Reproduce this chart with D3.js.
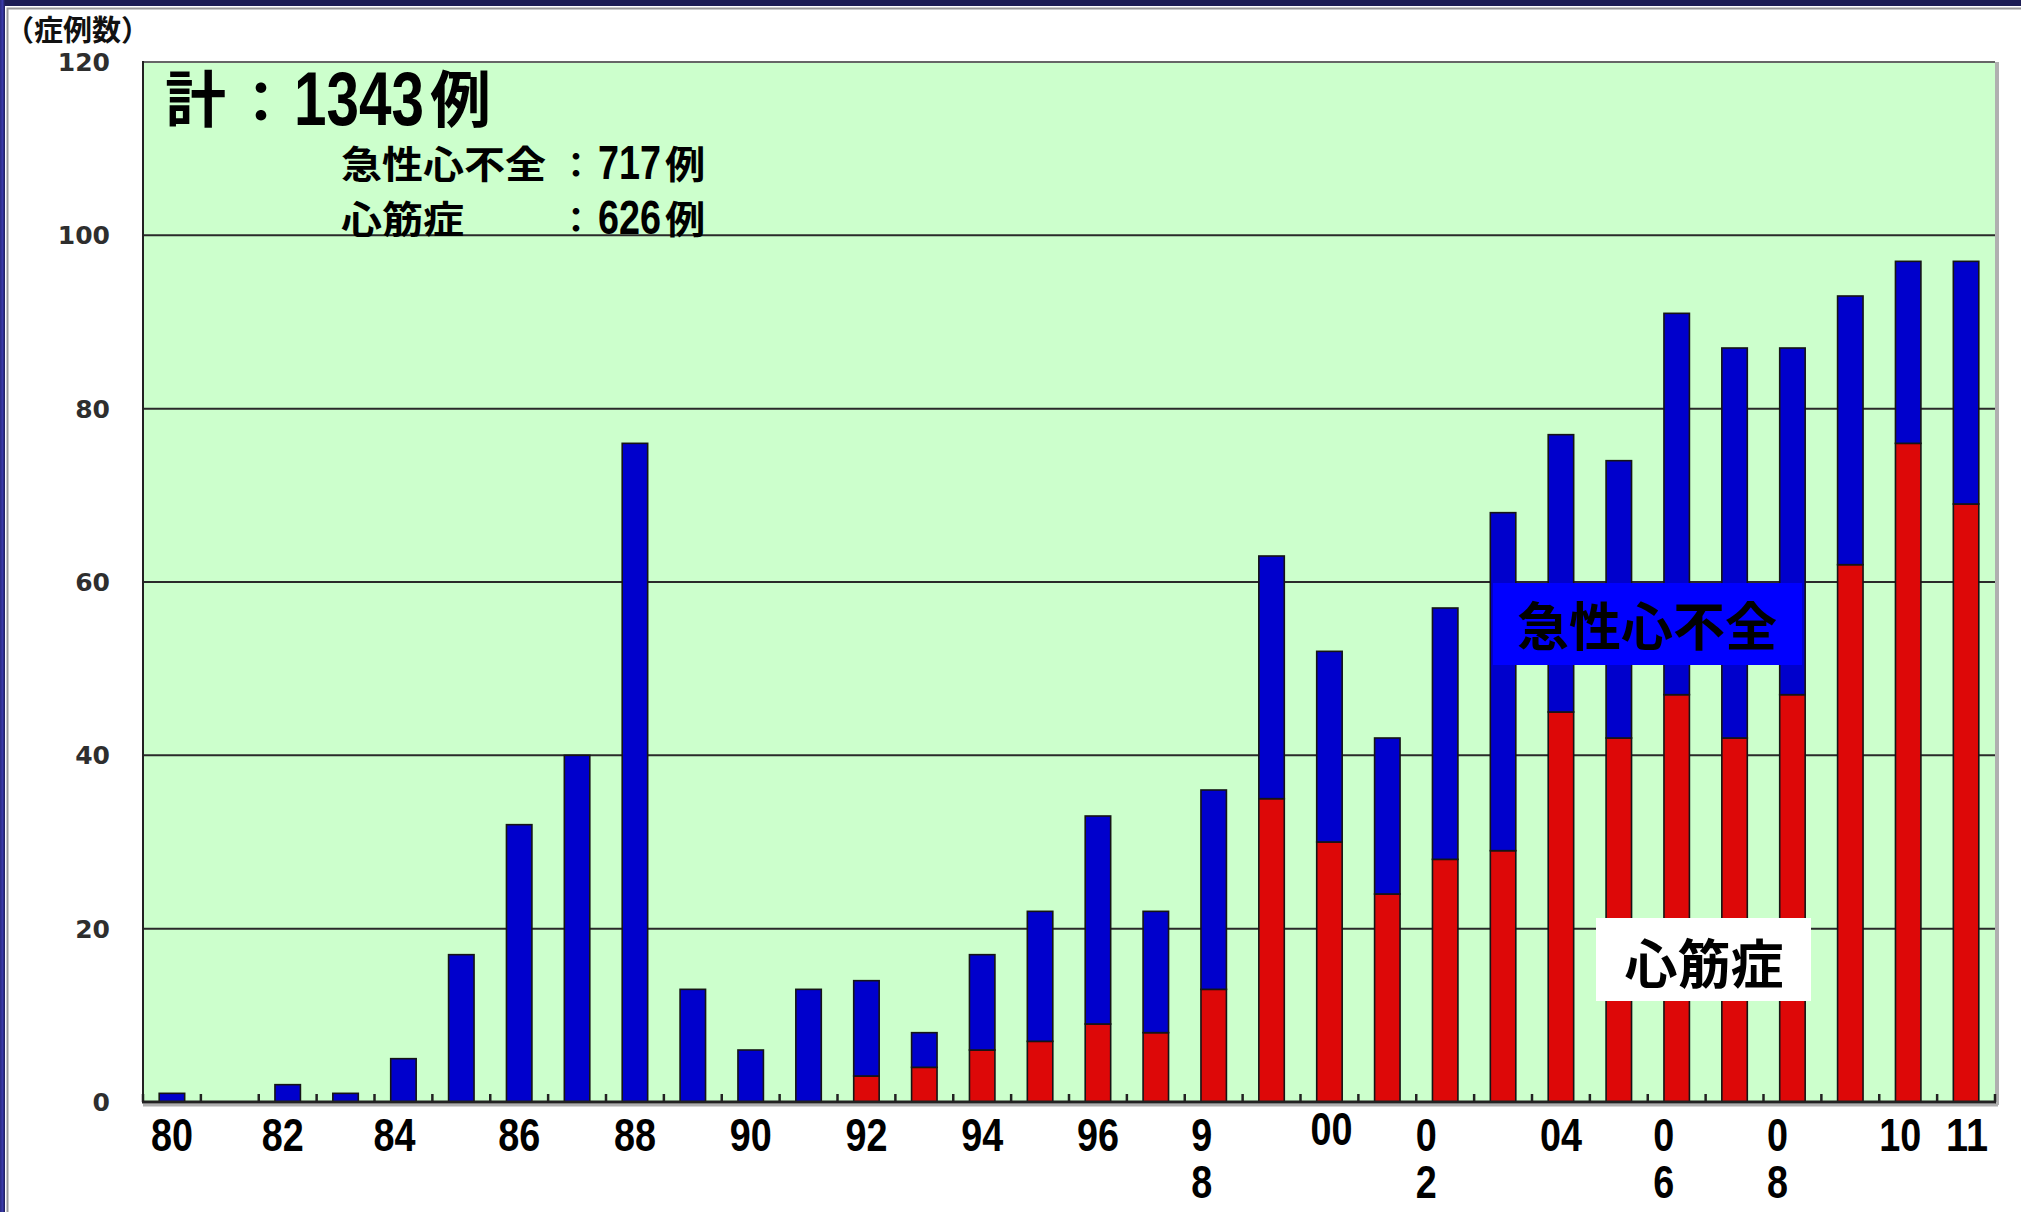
<!DOCTYPE html>
<html><head><meta charset="utf-8">
<script src="https://cdn.jsdelivr.net/npm/d3@7"></script>
<style>
body{margin:0;background:#fff;}
svg{display:block}
</style>
</head><body>
<svg id="chart" width="2021" height="1212"></svg>
<script>
// ---- data ----
const years = [1980,1981,1982,1983,1984,1985,1986,1987,1988,1989,1990,1991,1992,1993,1994,1995,
               1996,1997,1998,1999,2000,2001,2002,2003,2004,2005,2006,2007,2008,2009,2010,2011];
// 心筋症 (red, bottom segment)
const cardiomyopathy = [0,0,0,0,0,0,0,0,0,0,0,0,3,4,6,7,9,8,13,35,30,24,28,29,45,42,47,42,47,62,76,69];
// 急性心不全 (blue, top segment)
const acuteHF = [1,0,2,1,5,17,32,40,76,13,6,13,11,4,11,15,24,14,23,28,22,18,29,39,32,32,44,45,40,31,21,28];
const seriesKeys = ["心筋症","急性心不全"];
const yTicks = [0,20,40,60,80,100,120];
const xLabelYears = [1980,1982,1984,1986,1988,1990,1992,1994,1996,1998,2000,2002,2004,2006,2008,2010,2011];
const xLabelTexts = ["80","82","84","86","88","90","92","94","96","9\n8","00","0\n2","04","0\n6","0\n8","10","11"];
const yAxisTitle = "（症例数）";
const totalLabel = ["計","：","1343","例"];
const subLines = [["急性心不全","：","717","例"],["心筋症","：","626","例"]];
const boxLabels = ["急性心不全","心筋症"];

// ---- layout / style ----
const W = 2021, H = 1212;
const m = {left:143, right:1995, top:62, bottom:1102};
const xLabelNudge = {1982:-5, 1984:-9, 1998:-12, 2000:2, 2002:-19, 2006:-13, 2008:-15, 2010:-8, 2011:1};
const xLabelDy = {2000:-6};
const C = {blue:"#0000cc", red:"#dd0808", bg:"#ccffcc", navy:"#1d1d55"};
const CJK = "'Noto Sans CJK JP','Noto Sans CJK SC',sans-serif";
const NUM = "'Liberation Sans',Arial,sans-serif";

const svg = d3.select("#chart");

// outer frame
svg.append("rect").attr("x",0).attr("y",0).attr("width",W).attr("height",H).attr("fill","#fff");
svg.append("rect").attr("x",0).attr("y",0).attr("width",W).attr("height",6).attr("fill",C.navy);
const lg = svg.append("defs").append("linearGradient").attr("id","lb").attr("x1",0).attr("x2",1);
lg.append("stop").attr("offset","0").attr("stop-color","#2a2a80");
lg.append("stop").attr("offset","0.5").attr("stop-color","#3a3aa8");
lg.append("stop").attr("offset","1").attr("stop-color","#1d1d55");
svg.append("rect").attr("x",0).attr("y",0).attr("width",5).attr("height",H).attr("fill","url(#lb)");
svg.append("path").attr("d",`M7.5,${H} V8.5 H${W}`).attr("fill","none").attr("stroke","#9a9a9a").attr("stroke-width",2);

// scales
const x = d3.scaleBand().domain(years).range([m.left,m.right]).paddingInner(0.56).paddingOuter(0.28);
const xb = d3.scaleBand().domain(years).range([m.left,m.right]).padding(0);
const y = d3.scaleLinear().domain([0,120]).range([m.bottom,m.top]);

// plot background
svg.append("rect").attr("x",m.left).attr("y",m.top).attr("width",m.right-m.left).attr("height",m.bottom-m.top).attr("fill",C.bg);
// right shadow
svg.append("line").attr("x1",m.right+2).attr("x2",m.right+2).attr("y1",m.top).attr("y2",m.bottom+3)
  .attr("stroke","#b0b0b0").attr("stroke-width",4);

// gridlines
svg.append("g").selectAll("line").data(yTicks.filter(d=>d>0)).join("line")
  .attr("x1",m.left).attr("x2",m.right).attr("y1",d=>y(d)).attr("y2",d=>y(d))
  .attr("stroke",d=>d===120?"#666":"#2a2a2a").attr("stroke-width",2);

// y labels
svg.append("g").selectAll("text").data(yTicks).join("text")
  .attr("x",110).attr("y",d=>y(d)+9).attr("text-anchor","end")
  .attr("font-family","'DejaVu Sans',sans-serif").attr("font-weight","bold").attr("font-size",25)
  .attr("fill","#2e2e2e").text(d=>d);

// y title
svg.append("text").attr("x",5).attr("y",41).attr("font-family",CJK).attr("font-weight","bold")
  .attr("font-size",29).attr("fill","#111").text(yAxisTitle);

// stacked bars
const table = years.map((yr,i)=>({year:yr, "心筋症":cardiomyopathy[i], "急性心不全":acuteHF[i]}));
const stacked = d3.stack().keys(seriesKeys)(table);
const colors = {"心筋症":C.red, "急性心不全":C.blue};
svg.append("g").selectAll("g").data(stacked).join("g").attr("fill",d=>colors[d.key])
  .selectAll("rect").data(d=>d.filter(s=>s[1]>s[0])).join("rect")
  .attr("x",d=>x(d.data.year)).attr("width",x.bandwidth())
  .attr("y",d=>y(d[1])).attr("height",d=>y(d[0])-y(d[1]))
  .attr("stroke","#151515").attr("stroke-width",1.6);

// left axis line
svg.append("line").attr("x1",m.left).attr("x2",m.left).attr("y1",m.top-1).attr("y2",m.bottom)
  .attr("stroke","#222").attr("stroke-width",2);
// baseline + shadow
svg.append("line").attr("x1",m.left).attr("x2",m.right+3).attr("y1",m.bottom+3).attr("y2",m.bottom+3)
  .attr("stroke","#b0b0b0").attr("stroke-width",3);
svg.append("line").attr("x1",m.left-1).attr("x2",m.right+1).attr("y1",m.bottom).attr("y2",m.bottom)
  .attr("stroke","#222").attr("stroke-width",3);
// ticks at band boundaries (inside)
const bounds = years.map(d=>xb(d)).concat([m.right]);
svg.append("g").selectAll("line").data(bounds).join("line")
  .attr("x1",d=>d).attr("x2",d=>d).attr("y1",m.bottom).attr("y2",m.bottom-8)
  .attr("stroke","#222").attr("stroke-width",2.5);

// condensed numeric text (scaled horizontally to a given width)
function condensed(parent, t, xx, yy, fs, width, anchor){
  const el = parent.append("text").attr("font-family",NUM).attr("font-weight","bold")
    .attr("font-size",fs).attr("fill","#000").attr("text-anchor",anchor||"start").text(t);
  const w0 = el.node().getComputedTextLength();
  el.attr("transform",`translate(${xx},${yy}) scale(${(width/w0).toFixed(4)},1)`);
  return el;
}
function cjk(t, xx, yy, fs, anchor, sx){
  const el = svg.append("text").attr("font-family",CJK).attr("font-weight","bold")
    .attr("font-size",fs).attr("fill","#000").attr("text-anchor",anchor||"start").text(t);
  el.attr("transform",`translate(${xx},${yy}) scale(${sx||1},1)`);
  return el;
}

// x labels
const xl = svg.append("g");
xLabelYears.forEach((yr,i)=>{
  const lines = xLabelTexts[i].split("\n");
  const cx = x(yr)+x.bandwidth()/2 + (xLabelNudge[yr]||0);
  lines.forEach((s,j)=>{
    condensed(xl, s, cx, 1151 + j*47 + (xLabelDy[yr]||0), 46, s.length*21, "middle");
  });
});

// summary text
cjk(totalLabel[0], 165, 122, 61);
cjk(totalLabel[1], 261, 122, 56, "middle");
condensed(svg, totalLabel[2], 294, 125, 76, 130);
cjk(totalLabel[3], 430, 122, 61);
subLines.forEach((ln,i)=>{
  const by = 178 + i*55;
  cjk(ln[0], 341, by, 38, "start", 1.08);
  cjk(ln[1], 576, by, 35, "middle");
  condensed(svg, ln[2], 598, by+1, 49, 63);
  cjk(ln[3], 665, by, 38, "start", 1.06);
});

// box labels
svg.append("rect").attr("x",1493).attr("y",583).attr("width",309).attr("height",82).attr("fill","#0000ff");
cjk(boxLabels[0], 1647, 646, 52, "middle");
svg.append("rect").attr("x",1596).attr("y",918).attr("width",215).attr("height",83).attr("fill","#ffffff");
cjk(boxLabels[1], 1704, 984, 53, "middle");
</script>
</body></html>
